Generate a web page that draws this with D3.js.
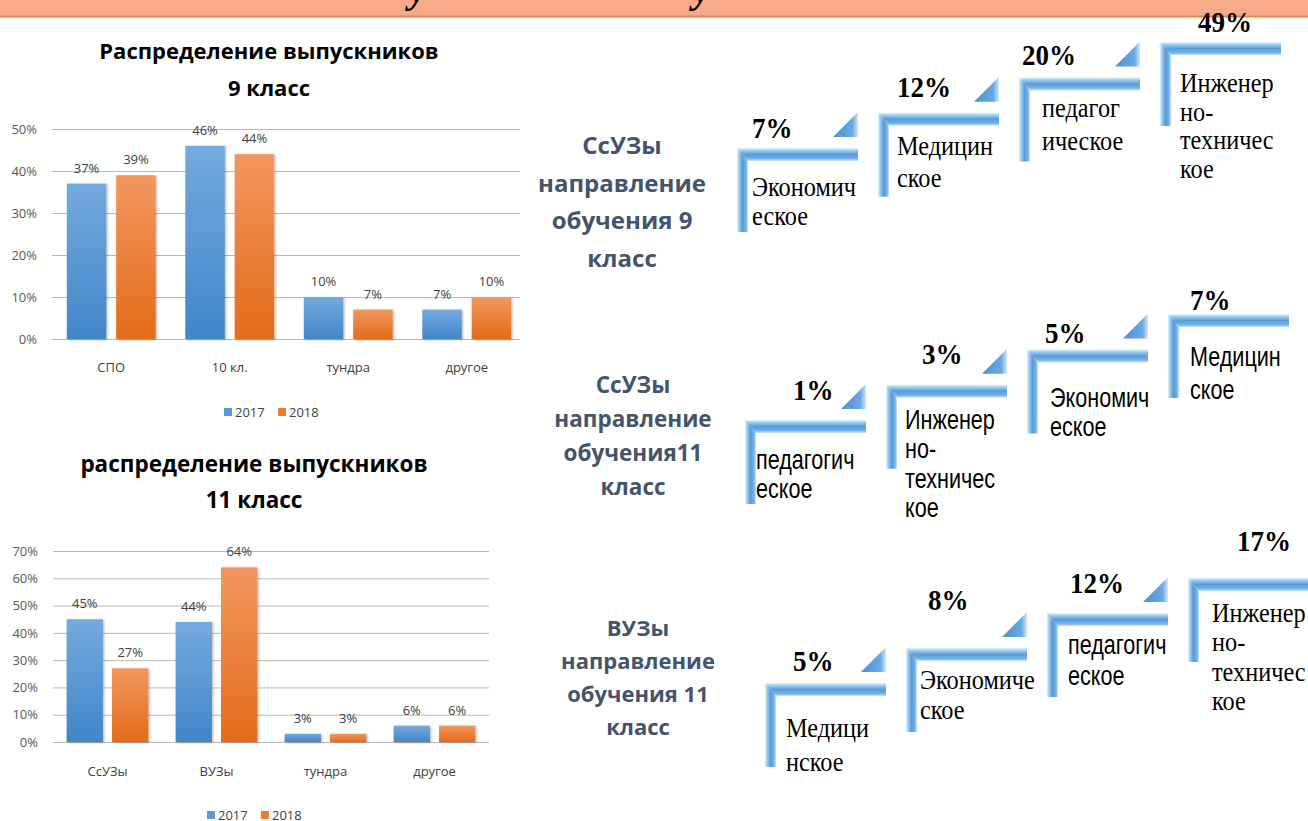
<!DOCTYPE html>
<html>
<head>
<meta charset="utf-8" />
<title>Распределение выпускников</title>
<script src="https://cdn.jsdelivr.net/npm/d3@7"></script>
<style>
    body { margin: 0; background: #ffffff; }
    svg { display: block; }
</style>
</head>
<body>
<div id="chart_container"></div>
<script>
// ---- данные ----
var years = ["2017", "2018"];

var cats9 = ["СПО", "10 кл.", "тундра", "другое"];
var vals9_2017 = [37, 46, 10, 7];
var vals9_2018 = [39, 44, 7, 10];
var ticks9 = [0, 10, 20, 30, 40, 50];

var cats11 = ["СсУЗы", "ВУЗы", "тундра", "другое"];
var vals11_2017 = [45, 44, 3, 6];
var vals11_2018 = [27, 64, 3, 6];
var ticks11 = [0, 10, 20, 30, 40, 50, 60, 70];

// ступеньки: направления обучения
var row1Titles = ["СсУЗы", "направление", "обучения 9", "класс"];
var row1Labels = [["Экономич", "еское"], ["Медицин", "ское"], ["педагог", "ическое"], ["Инженер", "но-", "техничес", "кое"]];
var row1Values = [7, 12, 20, 49];

var row2Titles = ["СсУЗы", "направление", "обучения11", "класс"];
var row2Labels = [["педагогич", "еское"], ["Инженер", "но-", "техничес", "кое"], ["Экономич", "еское"], ["Медицин", "ское"]];
var row2Values = [1, 3, 5, 7];

var row3Titles = ["ВУЗы", "направление", "обучения 11", "класс"];
var row3Labels = [["Медици", "нское"], ["Экономиче", "ское"], ["педагогич", "еское"], ["Инженер", "но-", "техничес", "кое"]];
var row3Values = [5, 8, 12, 17];

// раскладка подписей на ступеньках (сдвиги от угла ступеньки)
var rowFonts = [
    ["serif", "serif", "serif", "serif"],
    ["narrow", "narrow", "narrow", "narrow"],
    ["serif", "serif", "narrow", "serif"]
];
var pctShift = [
    [[15, -10], [19, -16], [3, -12], [38, -10]],
    [[48, -20], [36, -21], [18, -6], [22, -4]],
    [[28, -12], [22, -38], [23, -20], [49, -27]]
];
var textShift = [
    [[15, 48, 29], [19, 42, 32], [23, 40, 33], [20, 50, 28.5]],
    [[11, 49, 29], [19, 44, 29.5], [23, 58, 29], [22, 52, 33]],
    [[21, 54, 34], [14, 41, 30], [21, 41, 31], [24, 44, 29.3]]
];

var svg = d3.select("#chart_container").append("svg")
    .attr("width", 1308).attr("height", 821);
var defs = svg.append("defs");

function grad(id, horizontal, stops) {
    var g = defs.append("linearGradient").attr("id", id)
        .attr("x1", 0).attr("y1", 0)
        .attr("x2", horizontal ? 1 : 0).attr("y2", horizontal ? 0 : 1);
    stops.forEach(function (s) {
        g.append("stop").attr("offset", s[0]).attr("stop-color", s[1]);
    });
}
grad("blueBar", false, [[0, "#74aade"], [1, "#4186c8"]]);
grad("orangeBar", false, [[0, "#f2975f"], [1, "#e46b18"]]);
var bevel = [[0, "#e4f4fd"], [0.2, "#9acbef"], [0.5, "#5a9bd7"], [0.82, "#74b2e8"], [1, "#cbe8fa"]];
grad("stepH", false, bevel);
grad("stepV", true, bevel);
grad("tri", true, [[0, "#4a8fd0"], [0.78, "#6aaae2"], [1, "#d0eafa"]]);

var sh = defs.append("filter").attr("id", "shadow")
    .attr("x", "-20%").attr("y", "-20%").attr("width", "140%").attr("height", "140%");
sh.append("feDropShadow").attr("dx", 1.2).attr("dy", 0.8)
    .attr("stdDeviation", 1.2).attr("flood-color", "#000").attr("flood-opacity", 0.28);

// ---- верхняя плашка ----
svg.append("rect").attr("x", 0).attr("y", 0).attr("width", 1308).attr("height", 16).attr("fill", "#f8aa88");
svg.append("line").attr("x1", 0).attr("x2", 1308).attr("y1", 16.5).attr("y2", 16.5)
    .attr("stroke", "#ef8040").attr("stroke-width", 2);
[409, 693].forEach(function (gx) {
    svg.append("text").attr("x", gx).attr("y", 2)
        .style("font", "italic bold 40px 'Liberation Serif'").text("у");
});

// ---- столбчатые диаграммы ----
function drawBarChart(o) {
    var g = svg.append("g");
    var rows = o.cats.map(function (c, i) { return { cat: c, values: [o.a[i], o.b[i]] }; });

    var x = d3.scaleBand().domain(o.cats).range([o.left, o.right]);
    var x1 = d3.scaleBand().domain(years).range([0, x.bandwidth()])
        .paddingInner(0.2).paddingOuter(0.3);
    var y = d3.scaleLinear().domain([0, d3.max(o.ticks)]).range([o.bottom, o.top]);

    g.append("text").attr("text-anchor", "middle")
        .style("font", "bold " + o.titleSize + "px 'Open Sans'").attr("fill", "#000")
        .selectAll("tspan").data(o.title).join("tspan")
        .attr("x", o.titleX).attr("y", function (d, i) { return o.titleY + i * o.titleGap; })
        .text(function (d) { return d; });

    var axis = d3.axisLeft(y).tickValues(o.ticks)
        .tickSize(-(o.gridRight - o.left)).tickPadding(15)
        .tickFormat(function (d) { return d + "%"; });
    var ag = g.append("g").attr("transform", "translate(" + o.left + ",0)").call(axis);
    ag.select(".domain").remove();
    ag.selectAll("line").attr("stroke", "#b8b8b8").attr("stroke-width", 1);
    ag.selectAll("text").attr("fill", "#595959").style("font", "13px 'Open Sans'");

    var cg = g.selectAll("g.cat").data(rows).join("g").attr("class", "cat")
        .attr("transform", function (d) { return "translate(" + x(d.cat) + ",0)"; });

    cg.selectAll("rect").data(function (d) { return d.values; }).join("rect")
        .attr("x", function (d, i) { return x1(years[i]); })
        .attr("width", x1.bandwidth())
        .attr("y", function (d) { return y(d); })
        .attr("height", function (d) { return y(0) - y(d); })
        .attr("fill", function (d, i) { return i ? "url(#orangeBar)" : "url(#blueBar)"; })
        .attr("filter", "url(#shadow)");

    cg.selectAll("text.val").data(function (d) { return d.values; }).join("text").attr("class", "val")
        .attr("x", function (d, i) { return x1(years[i]) + x1.bandwidth() / 2; })
        .attr("y", function (d) { return y(d) - 11; })
        .attr("text-anchor", "middle").attr("fill", "#404040")
        .style("font", "13px 'Open Sans'")
        .text(function (d) { return d + "%"; });

    g.selectAll("text.cat").data(o.cats).join("text").attr("class", "cat")
        .attr("x", function (d) { return x(d) + x.bandwidth() / 2; })
        .attr("y", o.catY).attr("text-anchor", "middle").attr("fill", "#404040")
        .style("font", "13px 'Open Sans'").text(function (d) { return d; });

    var lg = g.selectAll("g.leg").data(years).join("g").attr("class", "leg")
        .attr("transform", function (d, i) { return "translate(" + (o.legX + i * o.legStep) + "," + o.legY + ")"; });
    lg.append("rect").attr("x", 0).attr("y", -9).attr("width", 8).attr("height", 8)
        .attr("fill", function (d, i) { return i ? "#ed7d31" : "#5b9bd5"; });
    lg.append("text").attr("x", 11).attr("y", 0).attr("fill", "#404040")
        .style("font", "13px 'Open Sans'").text(function (d) { return d; });
}

drawBarChart({
    cats: cats9, a: vals9_2017, b: vals9_2018, ticks: ticks9,
    left: 52, right: 526, gridRight: 520, top: 129, bottom: 339,
    title: ["Распределение выпускников", "9 класс"], titleSize: 22, titleX: 269, titleY: 59, titleGap: 37,
    catY: 372, legX: 224, legY: 417, legStep: 54
});
drawBarChart({
    cats: cats11, a: vals11_2017, b: vals11_2018, ticks: ticks11,
    left: 53, right: 489, gridRight: 489, top: 551, bottom: 742,
    title: ["распределение выпускников", "11 класс"], titleSize: 22.5, titleX: 254, titleY: 472, titleGap: 36,
    catY: 776, legX: 207, legY: 820, legStep: 54
});

// ---- ступеньки ----
function squeezed(parent, x, y, str, font, sx) {
    return parent.append("text")
        .attr("transform", "translate(" + x + "," + y + ") scale(" + sx + ",1)")
        .style("font", font).attr("fill", "#000").text(str);
}

function drawSteps(o) {
    var g = svg.append("g");
    var n = o.values.length;
    var sx = d3.scaleLinear().domain([0, n - 1]).range([o.x0, o.x0 + (n - 1) * 141]);
    var sy = d3.scaleLinear().domain([0, n - 1]).range([o.y0, o.y0 - (n - 1) * o.dy]);
    var L = 121, t = 13, w = 11, H = 84;

    // подпись слева
    g.append("text").attr("text-anchor", "middle").attr("fill", "#44546a")
        .style("font", "bold " + o.tSize + "px 'Open Sans'")
        .selectAll("tspan").data(o.titles).join("tspan")
        .attr("x", o.tx).attr("y", function (d, i) { return o.ty + i * o.tGap; })
        .text(function (d) { return d; });

    o.values.forEach(function (v, i) {
        var x = sx(i), y = sy(i);
        g.append("polygon")
            .attr("points", [[x, y], [x + w, y + t], [x + w, y + H], [x, y + H]].join(" "))
            .attr("fill", "url(#stepV)");
        g.append("polygon")
            .attr("points", [[x, y], [x + L, y], [x + L, y + t], [x + w, y + t]].join(" "))
            .attr("fill", "url(#stepH)");
        if (i < n - 1) {
            g.append("polygon")
                .attr("points", [[x + L - 25, y - 11], [x + L, y - 11], [x + L, y - 36]].join(" "))
                .attr("fill", "url(#tri)");
        }
        var p = o.pct[i];
        squeezed(g, x + p[0], y + p[1], v + "%", "bold 30px 'Liberation Serif'", 0.9);

        var f = o.fonts[i], ts = o.txt[i];
        o.labels[i].forEach(function (line, k) {
            if (f === "serif") {
                squeezed(g, x + ts[0], y + ts[1] + k * ts[2], line, "27px 'Liberation Serif'", 0.9);
            } else {
                squeezed(g, x + ts[0], y + ts[1] + k * ts[2], line, "27px 'Liberation Sans'", 0.8);
            }
        });
    });
}

drawSteps({ values: row1Values, labels: row1Labels, titles: row1Titles, fonts: rowFonts[0],
    pct: pctShift[0], txt: textShift[0],
    x0: 737, y0: 148, dy: 35.3, tx: 622, ty: 154, tGap: 37.5, tSize: 24 });
drawSteps({ values: row2Values, labels: row2Labels, titles: row2Titles, fonts: rowFonts[1],
    pct: pctShift[1], txt: textShift[1],
    x0: 745, y0: 420, dy: 35.3, tx: 633, ty: 393, tGap: 34, tSize: 22.5 });
drawSteps({ values: row3Values, labels: row3Labels, titles: row3Titles, fonts: rowFonts[2],
    pct: pctShift[2], txt: textShift[2],
    x0: 765, y0: 683, dy: 35, tx: 638, ty: 636, tGap: 33, tSize: 22 });
</script>
</body>
</html>
